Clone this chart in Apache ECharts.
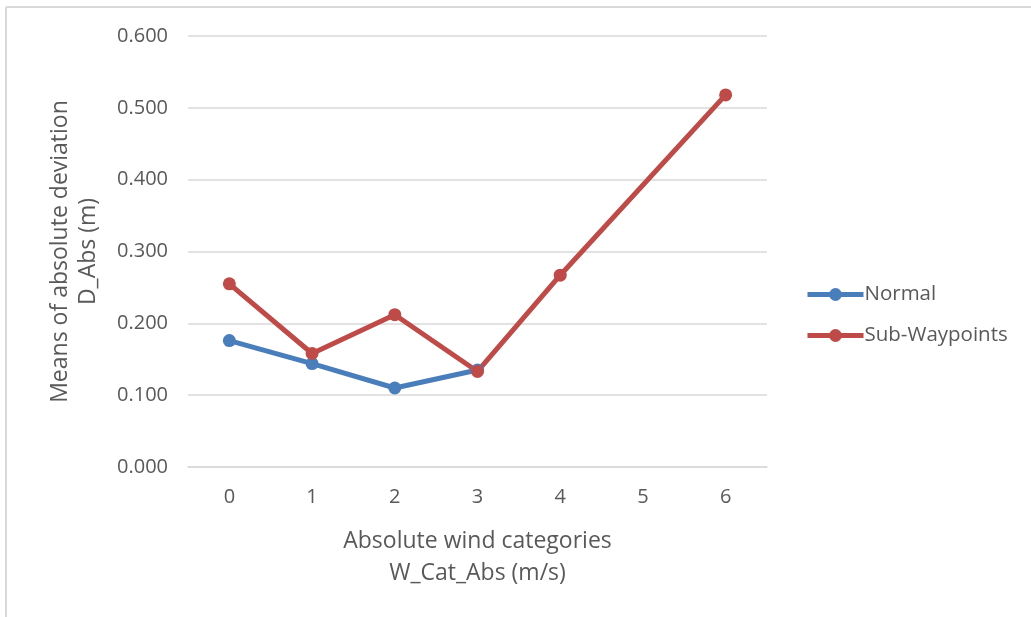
<!DOCTYPE html>
<html>
<head>
<meta charset="utf-8">
<script src="https://cdn.jsdelivr.net/npm/echarts@6/dist/echarts.min.js"></script>
<style>html,body{margin:0;padding:0;background:#fff;}#c{width:1031px;height:617px;}</style>
</head>
<body>
<div id="c"></div>
<script>
const categories = ['0', '1', '2', '3', '4', '5', '6'];
const normalValues = [0.176, 0.144, 0.110, 0.135, null, null, null];
const subWaypointValues = [0.255, 0.158, 0.212, 0.133, 0.267, null, 0.518];
const yTicks = { min: 0, max: 0.6, interval: 0.1 };

const textColor = '#595959';
const font = 'Open Sans';
const chart = echarts.init(document.getElementById('c'));
chart.setOption({
  animation: false,
  backgroundColor: '#fff',
  graphic: [
    { type: 'line', shape: { x1: 6, y1: 7, x2: 1031, y2: 7 }, style: { stroke: '#d9d9d9', lineWidth: 2 } },
    { type: 'line', shape: { x1: 6, y1: 7, x2: 6, y2: 617 }, style: { stroke: '#d9d9d9', lineWidth: 2 } }
  ],
  grid: { left: 188, right: 264, top: 36, bottom: 150, containLabel: false },
  legend: {
    orient: 'vertical',
    left: 800,
    top: 279,
    itemGap: 20,
    itemWidth: 56,
    itemHeight: 16,
    lineStyle: { width: 5 },
    textStyle: { color: textColor, fontSize: 20.5, fontFamily: font, padding: [0, 0, 0, -4] },
    data: ['Normal', 'Sub-Waypoints']
  },
  xAxis: {
    type: 'category',
    data: categories,
    boundaryGap: true,
    axisLine: { show: true, lineStyle: { color: '#d9d9d9', width: 1.5 } },
    axisTick: { show: false },
    axisLabel: { color: textColor, fontSize: 20, fontFamily: font, margin: 20 },
    name: 'Absolute wind categories\nW_Cat_Abs (m/s)',
    nameLocation: 'middle',
    nameGap: 58,
    nameTextStyle: { color: textColor, fontSize: 23, fontFamily: font, lineHeight: 32, verticalAlign: 'top' }
  },
  yAxis: {
    type: 'value',
    min: yTicks.min,
    max: yTicks.max,
    interval: yTicks.interval,
    axisLine: { show: false },
    axisTick: { show: false },
    splitLine: { lineStyle: { color: '#d9d9d9', width: 1.5 } },
    axisLabel: { color: textColor, fontSize: 20, fontFamily: font, margin: 20, formatter: v => v.toFixed(3) },
    name: 'Means of absolute deviation\nD_Abs (m)',
    nameLocation: 'middle',
    nameGap: 86,
    nameRotate: 90,
    nameTextStyle: { color: textColor, fontSize: 23, fontFamily: font, lineHeight: 28 }
  },
  series: [
    {
      name: 'Normal',
      type: 'line',
      data: normalValues,
      symbol: 'circle',
      symbolSize: 13,
      lineStyle: { color: '#4a7ebb', width: 5 },
      itemStyle: { color: '#4a7ebb' },
      connectNulls: true
    },
    {
      name: 'Sub-Waypoints',
      type: 'line',
      data: subWaypointValues,
      symbol: 'circle',
      symbolSize: 13,
      lineStyle: { color: '#be4b48', width: 5 },
      itemStyle: { color: '#be4b48' },
      connectNulls: true
    }
  ]
});
</script>
</body>
</html>
